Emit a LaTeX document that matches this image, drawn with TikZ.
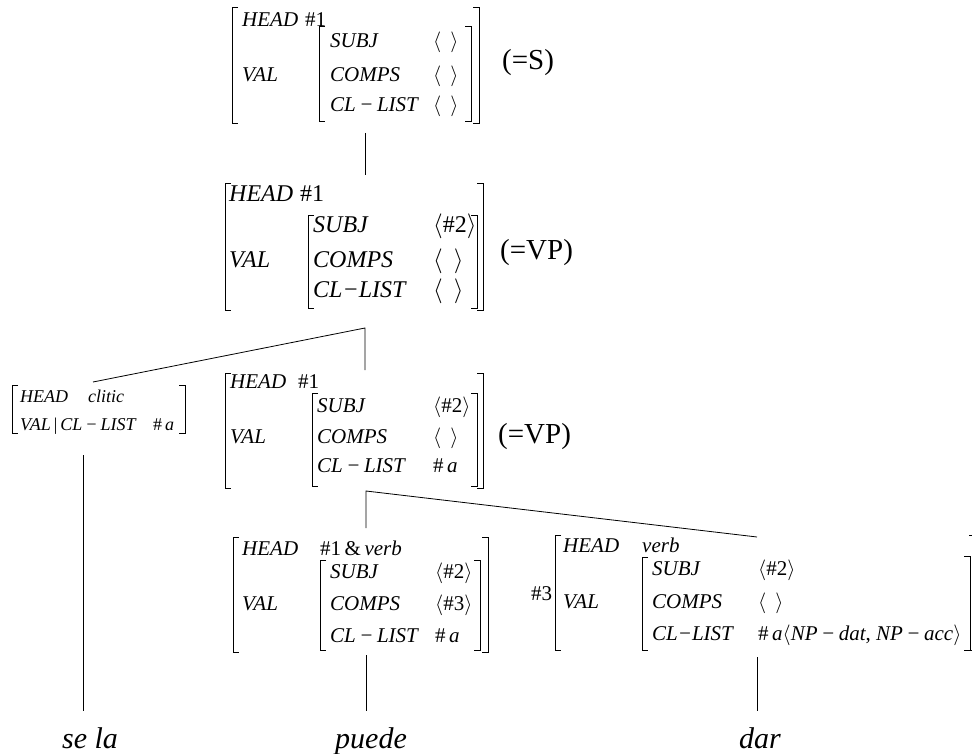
\documentclass[tikz,border=0pt]{standalone}
\usepackage{fontspec}
\setmainfont{Liberation Serif}
\usetikzlibrary{calc}

\begin{document}
\begin{tikzpicture}[x=1pt,y=-1pt]
    \tikzstyle{bracket}=[line width=0.9pt,color=black]
    \tikzstyle{branch}=[line width=0.8pt,color=black]
    \tikzstyle{feat}=[anchor=base west,inner sep=0pt,font=\fontsize{21}{21}\selectfont\itshape]
    \tikzstyle{feat big}=[feat,font=\fontsize{24}{24}\selectfont\itshape]
    \tikzstyle{feat small}=[feat,font=\fontsize{18}{18}\selectfont\itshape]
    \tikzstyle{tag}=[anchor=west,inner sep=0pt,font=\fontsize{29}{29}\selectfont]
    \tikzstyle{word}=[anchor=base,inner sep=0pt,font=\fontsize{30}{30}\selectfont\itshape]

    \useasboundingbox (0,0) rectangle (972,754);

    % Tree points
	\coordinate (s_bot) at (365,133);
	\coordinate (vp1_top) at (365,175);
	\coordinate (vp1_bot) at (365,328);
	\coordinate (vp2_top) at (365,370);
	\coordinate (cl_top) at (93,382);
	\coordinate (cl_bot) at (83,455);
	\coordinate (vp2_bot) at (366,491);
	\coordinate (pu_top) at (366,528);
	\coordinate (dar_top) at (757,537);
	\coordinate (pu_bot) at (366,655);
	\coordinate (dar_bot) at (757,657);
	\coordinate (sela_end) at (83,711);
	\coordinate (pu_end) at (366,711);
	\coordinate (dar_end) at (757,711);

    % S
	\draw[style=bracket] (238,7) -| (232,123) -- ++(6,0);
	\draw[style=bracket] (473,7) -| (479,123) -- ++(-6,0);
	\draw[style=bracket] (325,26) -| (319,121) -- ++(6,0);
	\draw[style=bracket] (465,26) -| (471,121) -- ++(-6,0);
	\node[feat] (s_head) at (242,27) {HEAD};
	\node[feat] (s_head_v) at (305,27) {\upshape\#1};
	\node[feat] (s_val) at (242,82) {VAL};
	\node[feat] (s_subj) at (330,48) {SUBJ};
	\node[feat] (s_comps) at (330,82) {COMPS};
	\node[feat] (s_cl) at (330,112) {CL\,−\,LIST};
	\node[feat] (s_subj_v) at (433,48) {$\langle\;\,\rangle$};
	\node[feat] (s_comps_v) at (433,82) {$\langle\;\,\rangle$};
	\node[feat] (s_cl_v) at (433,112) {$\langle\;\,\rangle$};
	\node[style=tag] (s_tag) at (502,63) {(=S)};

    % VP above the clitic
	\draw[style=bracket] (231,183) -| (225,310) -- ++(6,0);
	\draw[style=bracket] (477,183) -| (483,310) -- ++(-6,0);
	\draw[style=bracket] (314,215) -| (308,308) -- ++(6,0);
	\draw[style=bracket] (471,215) -| (477,308) -- ++(-6,0);
	\node[feat big] (vp1_head) at (229,202) {HEAD};
	\node[feat big] (vp1_head_v) at (300,202) {\upshape\#1};
	\node[feat big] (vp1_val) at (229,267) {VAL};
	\node[feat big] (vp1_subj) at (313,233) {SUBJ};
	\node[feat big] (vp1_comps) at (313,267) {COMPS};
	\node[feat big] (vp1_cl) at (313,298) {CL−LIST};
	\node[feat big] (vp1_subj_v) at (433,233) {$\langle$\upshape\#2$\rangle$};
	\node[feat big] (vp1_comps_v) at (433,267) {$\langle\;\,\rangle$};
	\node[feat big] (vp1_cl_v) at (433,298) {$\langle\;\,\rangle$};
	\node[style=tag] (vp1_tag) at (500,253) {(=VP)};

    % Clitic
	\draw[style=bracket] (18,385) -| (12,433) -- ++(6,0);
	\draw[style=bracket] (179,385) -| (185,433) -- ++(-6,0);
	\node[feat small] (cl_head) at (20,402) {HEAD};
	\node[feat small] (cl_head_v) at (88,402) {clitic};
	\node[feat small] (cl_val) at (20,430) {VAL\,\upshape|\,\itshape CL\,−\,LIST};
	\node[feat small] (cl_val_v) at (153,430) {\upshape\#\,\itshape a};

    % VP above the verbs
	\draw[style=bracket] (231,373) -| (225,488) -- ++(6,0);
	\draw[style=bracket] (477,373) -| (483,488) -- ++(-6,0);
	\draw[style=bracket] (318,393) -| (312,486) -- ++(6,0);
	\draw[style=bracket] (471,393) -| (477,486) -- ++(-6,0);
	\node[feat] (vp2_head) at (230,388) {HEAD};
	\node[feat] (vp2_head_v) at (298,388) {\upshape\#1};
	\node[feat] (vp2_val) at (230,443) {VAL};
	\node[feat] (vp2_subj) at (317,412) {SUBJ};
	\node[feat] (vp2_comps) at (317,443) {COMPS};
	\node[feat] (vp2_cl) at (317,472) {CL\,−\,LIST};
	\node[feat] (vp2_subj_v) at (433,412) {$\langle$\upshape\#2$\rangle$};
	\node[feat] (vp2_comps_v) at (433,443) {$\langle\;\,\rangle$};
	\node[feat] (vp2_cl_v) at (433,472) {\upshape\#\,\itshape a};
	\node[style=tag] (vp2_tag) at (498,437) {(=VP)};

    % puede
	\draw[style=bracket] (239,537) -| (233,652) -- ++(6,0);
	\draw[style=bracket] (482,537) -| (488,652) -- ++(-6,0);
	\draw[style=bracket] (326,560) -| (320,650) -- ++(6,0);
	\draw[style=bracket] (474,560) -| (480,650) -- ++(-6,0);
	\node[feat] (pu_head) at (242,555) {HEAD};
	\node[feat] (pu_head_v) at (320,555) {\upshape\#1\,\&\,\itshape verb};
	\node[feat] (pu_val) at (242,610) {VAL};
	\node[feat] (pu_subj) at (330,578) {SUBJ};
	\node[feat] (pu_comps) at (330,610) {COMPS};
	\node[feat] (pu_cl) at (330,642) {CL\,−\,LIST};
	\node[feat] (pu_subj_v) at (435,578) {$\langle$\upshape\#2$\rangle$};
	\node[feat] (pu_comps_v) at (435,610) {$\langle$\upshape\#3$\rangle$};
	\node[feat] (pu_cl_v) at (435,642) {\upshape\#\,\itshape a};

    % dar
	\draw[style=bracket] (561,535) -| (555,650) -- ++(6,0);
	\draw[style=bracket] (969,535) -| (975,650) -- ++(-6,0);
	\draw[style=bracket] (648,557) -| (642,650) -- ++(6,0);
	\draw[style=bracket] (964,556) -| (970,650) -- ++(-6,0);
	\node[feat] (dar_tag) at (531,600) {\upshape\#3};
	\node[feat] (dar_head) at (563,552) {HEAD};
	\node[feat] (dar_head_v) at (642,552) {verb};
	\node[feat] (dar_val) at (563,608) {VAL};
	\node[feat] (dar_subj) at (652,575) {SUBJ};
	\node[feat] (dar_comps) at (652,608) {COMPS};
	\node[feat] (dar_cl) at (652,640) {CL−LIST};
	\node[feat] (dar_subj_v) at (758,575) {$\langle$\upshape\#2$\rangle$};
	\node[feat] (dar_comps_v) at (758,608) {$\langle\;\,\rangle$};
	\node[feat] (dar_cl_v) at (758,640) {\upshape\#\,\itshape a$\langle$NP\,−\,dat\upshape, \itshape NP\,−\,acc$\rangle$};

    % Words
	\node[style=word] (w_sela) at (90,748) {se la};
	\node[style=word] (w_puede) at (371,748) {puede};
	\node[style=word] (w_dar) at (760,748) {dar};

    % Branches
	\draw[style=branch] (s_bot) -- (vp1_top);
	\draw[style=branch] (cl_top) -- (vp1_bot) -- (vp2_top);
	\draw[style=branch] (cl_bot) -- (sela_end);
	\draw[style=branch] (pu_top) -- (vp2_bot) -- (dar_top);
	\draw[style=branch] (pu_bot) -- (pu_end);
	\draw[style=branch] (dar_bot) -- (dar_end);

\end{tikzpicture}
\end{document}
